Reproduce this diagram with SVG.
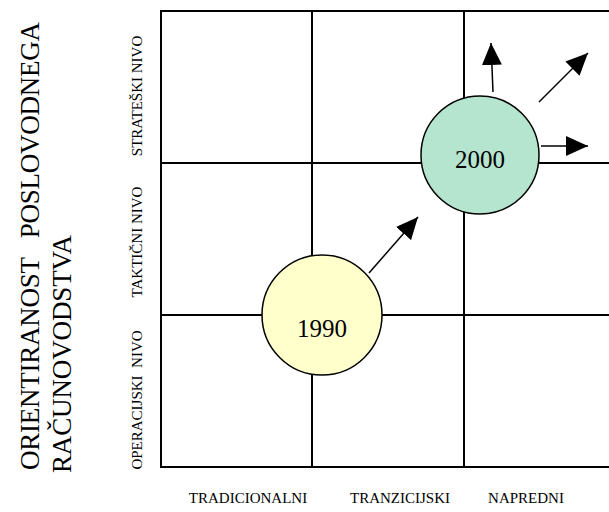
<svg xmlns="http://www.w3.org/2000/svg" width="609" height="512" viewBox="0 0 609 512">
<style>
.grid{stroke:#000;stroke-width:2;fill:none}
.t{font-family:"Liberation Serif","Times New Roman",serif;fill:#000}
.big{font-size:27px;white-space:pre}
.lvl{font-size:15px;white-space:pre}
.node{stroke:#000;stroke-width:1.5}
.arr{stroke:#000;stroke-width:1.5;fill:none;marker-end:url(#ah)}
</style>
<defs>
<marker id="ah" viewBox="0 0 22 20" refX="22" refY="10" markerWidth="22" markerHeight="20" markerUnits="userSpaceOnUse" orient="auto">
<path d="M0,0 L22,10 L0,20 z" fill="#000"/>
</marker>
</defs>
<rect width="609" height="512" fill="#fff"/>
<g id="grid">
<path class="grid" d="M609,11 H161 V467 H609 M312,11 V467 M464,11 V467 M161,163 H609 M161,315 H609"/>
</g>
<g id="axis-y">
<text class="t big" transform="translate(39,470) rotate(-90)" textLength="448" lengthAdjust="spacing">ORIENTIRANOST   POSLOVODNEGA</text>
<text class="t big" transform="translate(71,473) rotate(-90)" textLength="238" lengthAdjust="spacing">RAČUNOVODSTVA</text>
<text class="t lvl" text-anchor="middle" transform="translate(142,96) rotate(-90)">STRATEŠKI NIVO</text>
<text class="t lvl" text-anchor="middle" transform="translate(142,242) rotate(-90)">TAKTIČNI NIVO</text>
<text class="t lvl" text-anchor="middle" transform="translate(142,400) rotate(-90)">OPERACIJSKI  NIVO</text>
</g>
<g id="axis-x">
<text class="t lvl" x="248" y="503" text-anchor="middle">TRADICIONALNI</text>
<text class="t lvl" x="400" y="503" text-anchor="middle">TRANZICIJSKI</text>
<text class="t lvl" x="526" y="503" text-anchor="middle">NAPREDNI</text>
</g>
<g id="connectors">
<line class="arr" x1="369" y1="273" x2="418" y2="217"/>
<line class="arr" x1="493" y1="92" x2="491" y2="43"/>
<line class="arr" x1="539" y1="102" x2="588" y2="53"/>
<line class="arr" x1="541" y1="146" x2="588" y2="146"/>
</g>
<g id="node-1990">
<circle class="node" cx="322" cy="315" r="60" fill="#ffffcc"/>
<text class="t" x="322" y="337" font-size="25" text-anchor="middle">1990</text>
</g>
<g id="node-2000">
<circle class="node" cx="480" cy="155" r="59" fill="#b5e5cf"/>
<text class="t" x="480" y="168" font-size="25" text-anchor="middle">2000</text>
</g>
</svg>
